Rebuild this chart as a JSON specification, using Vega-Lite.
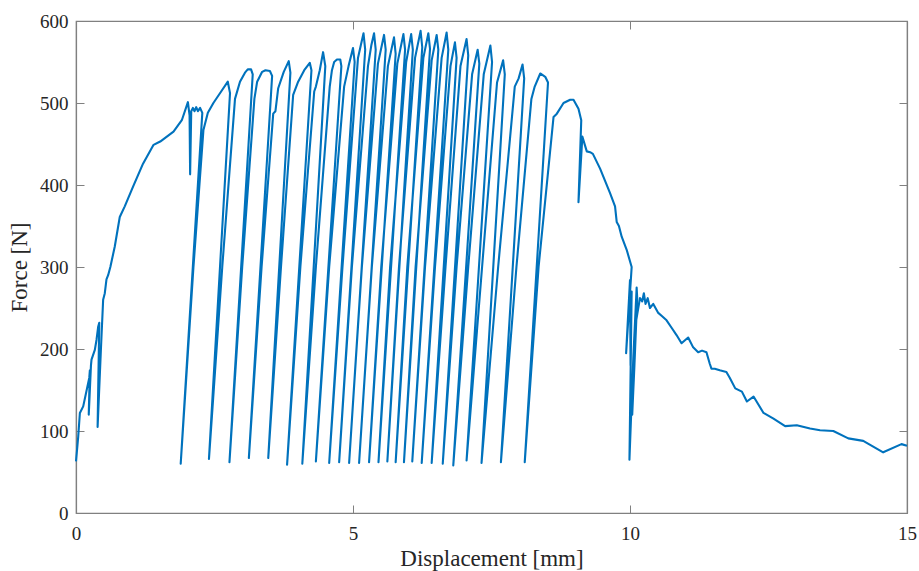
{
"$schema": "https://vega.github.io/schema/vega-lite/v6.json",
"width": 831, "height": 492,
"autosize": {"type": "none"},
"padding": {"left": 76, "top": 21, "right": 12, "bottom": 58},
"background": "white",
"config": {
  "font": "Liberation Serif",
  "view": {"stroke": "#808080", "strokeWidth": 1.2},
  "axis": {"grid": false, "domainColor": "#808080", "domainWidth": 1.2, "tickColor": "#808080", "tickWidth": 1, "tickSize": -8,
    "labelColor": "#262626", "titleColor": "#262626", "labelFont": "Liberation Serif", "titleFont": "Liberation Serif",
    "labelFontSize": 19, "titleFontSize": 23, "titleFontWeight": "normal"}
},
"data": {"values": [
{"i":1,"x":0,"y":63},{"i":2,"x":0.04,"y":93},{"i":3,"x":0.07,"y":122},{"i":4,"x":0.13,"y":130},{"i":5,"x":0.24,"y":165},{"i":6,"x":0.25,"y":174},{"i":7,"x":0.23,"y":120},{"i":8,"x":0.27,"y":180},{"i":9,"x":0.28,"y":187},{"i":10,"x":0.34,"y":199},
{"i":11,"x":0.37,"y":211},{"i":12,"x":0.40,"y":227},{"i":13,"x":0.42,"y":232},{"i":14,"x":0.39,"y":105},{"i":15,"x":0.45,"y":200},{"i":16,"x":0.49,"y":260},{"i":17,"x":0.52,"y":268},{"i":18,"x":0.55,"y":285},{"i":19,"x":0.58,"y":290},{"i":20,"x":0.62,"y":300},
{"i":21,"x":0.70,"y":325},{"i":22,"x":0.79,"y":361},{"i":23,"x":0.88,"y":374},{"i":24,"x":1.03,"y":398},{"i":25,"x":1.21,"y":426},{"i":26,"x":1.40,"y":449},{"i":27,"x":1.52,"y":453},{"i":28,"x":1.76,"y":465},{"i":29,"x":1.91,"y":479},{"i":30,"x":2.02,"y":501},
{"i":31,"x":2.05,"y":485},{"i":32,"x":2.06,"y":413},{"i":33,"x":2.08,"y":490},{"i":34,"x":2.11,"y":494},{"i":35,"x":2.14,"y":490},{"i":36,"x":2.17,"y":495},{"i":37,"x":2.20,"y":490},{"i":38,"x":2.24,"y":494},{"i":39,"x":2.28,"y":488},{"i":40,"x":1.89,"y":60},
{"i":41,"x":2.12,"y":300},{"i":42,"x":2.30,"y":467},{"i":43,"x":2.38,"y":488},{"i":44,"x":2.48,"y":500},{"i":45,"x":2.62,"y":514},{"i":46,"x":2.74,"y":526},{"i":47,"x":2.78,"y":512},{"i":48,"x":2.40,"y":66},
{"i":49,"x":2.64,"y":300},{"i":50,"x":2.87,"y":505},{"i":51,"x":2.96,"y":526},{"i":52,"x":3.05,"y":537},{"i":53,"x":3.10,"y":541},{"i":54,"x":3.16,"y":541},{"i":55,"x":3.19,"y":535},{"i":56,"x":2.77,"y":62},
{"i":57,"x":3.00,"y":300},{"i":58,"x":3.22,"y":505},{"i":59,"x":3.27,"y":526},{"i":60,"x":3.36,"y":538},{"i":61,"x":3.42,"y":540},{"i":62,"x":3.50,"y":539},{"i":63,"x":3.54,"y":533},{"i":64,"x":3.12,"y":67},
{"i":65,"x":3.35,"y":300},{"i":66,"x":3.56,"y":487},{"i":67,"x":3.60,"y":490},{"i":68,"x":3.65,"y":518},{"i":69,"x":3.75,"y":538},{"i":70,"x":3.84,"y":551},{"i":71,"x":3.87,"y":537},{"i":72,"x":3.47,"y":67},
{"i":73,"x":3.70,"y":300},{"i":74,"x":3.92,"y":510},{"i":75,"x":4.01,"y":526},{"i":76,"x":4.12,"y":540},{"i":77,"x":4.22,"y":549},{"i":78,"x":4.25,"y":540},{"i":79,"x":3.81,"y":59},
{"i":80,"x":4.05,"y":300},{"i":81,"x":4.30,"y":514},{"i":82,"x":4.33,"y":520},{"i":83,"x":4.40,"y":540},{"i":84,"x":4.46,"y":562},{"i":85,"x":4.50,"y":545},{"i":86,"x":4.085,"y":60},
{"i":87,"x":4.33,"y":300},{"i":88,"x":4.58,"y":520},{"i":89,"x":4.62,"y":540},{"i":90,"x":4.66,"y":550},{"i":91,"x":4.71,"y":553},{"i":92,"x":4.77,"y":553},{"i":93,"x":4.79,"y":545},{"i":94,"x":4.33,"y":63},
{"i":95,"x":4.57,"y":300},{"i":96,"x":4.84,"y":520},{"i":97,"x":4.92,"y":545},{"i":98,"x":5.00,"y":567},{"i":99,"x":5.03,"y":550},{"i":100,"x":4.57,"y":61},
{"i":101,"x":4.81,"y":300},{"i":102,"x":5.09,"y":555},{"i":103,"x":5.14,"y":570},{"i":104,"x":5.19,"y":585},{"i":105,"x":5.22,"y":565},{"i":106,"x":4.75,"y":62},
{"i":107,"x":4.98,"y":300},{"i":108,"x":5.27,"y":545},{"i":109,"x":5.33,"y":570},{"i":110,"x":5.38,"y":585},{"i":111,"x":5.41,"y":565},{"i":112,"x":4.93,"y":61},
{"i":113,"x":5.16,"y":300},{"i":114,"x":5.45,"y":548},{"i":115,"x":5.56,"y":583},{"i":116,"x":5.59,"y":565},{"i":117,"x":5.11,"y":61},
{"i":118,"x":5.34,"y":300},{"i":119,"x":5.63,"y":545},{"i":120,"x":5.74,"y":580},{"i":121,"x":5.77,"y":560},{"i":122,"x":5.29,"y":62},
{"i":123,"x":5.51,"y":300},{"i":124,"x":5.80,"y":548},{"i":125,"x":5.91,"y":584},{"i":126,"x":5.94,"y":565},{"i":127,"x":5.46,"y":62},
{"i":128,"x":5.67,"y":300},{"i":129,"x":5.96,"y":550},{"i":130,"x":6.05,"y":584},{"i":131,"x":6.08,"y":565},{"i":132,"x":5.62,"y":63},
{"i":133,"x":5.83,"y":300},{"i":134,"x":6.12,"y":555},{"i":135,"x":6.22,"y":588},{"i":136,"x":6.25,"y":568},{"i":137,"x":5.77,"y":62},
{"i":138,"x":5.98,"y":300},{"i":139,"x":6.27,"y":555},{"i":140,"x":6.36,"y":585},{"i":141,"x":6.39,"y":566},{"i":142,"x":5.92,"y":62},
{"i":143,"x":6.13,"y":300},{"i":144,"x":6.42,"y":552},{"i":145,"x":6.51,"y":583},{"i":146,"x":6.54,"y":565},{"i":147,"x":6.07,"y":63},
{"i":148,"x":6.30,"y":300},{"i":149,"x":6.60,"y":555},{"i":150,"x":6.69,"y":586},{"i":151,"x":6.72,"y":565},{"i":152,"x":6.24,"y":61},
{"i":153,"x":6.48,"y":300},{"i":154,"x":6.76,"y":545},{"i":155,"x":6.84,"y":574},{"i":156,"x":6.87,"y":555},{"i":157,"x":6.42,"y":61},
{"i":158,"x":6.67,"y":300},{"i":159,"x":6.94,"y":545},{"i":160,"x":7.05,"y":578},{"i":161,"x":7.08,"y":558},{"i":162,"x":6.62,"y":60},
{"i":163,"x":6.87,"y":300},{"i":164,"x":7.15,"y":535},{"i":165,"x":7.25,"y":565},{"i":166,"x":7.28,"y":548},{"i":167,"x":6.81,"y":58},
{"i":168,"x":7.08,"y":300},{"i":169,"x":7.36,"y":535},{"i":170,"x":7.48,"y":570},{"i":171,"x":7.51,"y":550},{"i":172,"x":7.05,"y":64},
{"i":173,"x":7.33,"y":300},{"i":174,"x":7.60,"y":525},{"i":175,"x":7.71,"y":552},{"i":176,"x":7.74,"y":535},{"i":177,"x":7.32,"y":61},
{"i":178,"x":7.62,"y":300},{"i":179,"x":7.92,"y":520},{"i":180,"x":7.99,"y":530},{"i":181,"x":8.06,"y":547},{"i":182,"x":8.09,"y":530},{"i":183,"x":7.67,"y":62},
{"i":184,"x":7.95,"y":300},{"i":185,"x":8.22,"y":505},{"i":186,"x":8.28,"y":520},{"i":187,"x":8.38,"y":536},{"i":188,"x":8.47,"y":532},{"i":189,"x":8.52,"y":525},{"i":190,"x":8.10,"y":62},
{"i":191,"x":8.35,"y":300},{"i":192,"x":8.62,"y":483},{"i":193,"x":8.68,"y":487},{"i":194,"x":8.80,"y":500},{"i":195,"x":8.92,"y":504},{"i":196,"x":8.98,"y":504},{"i":197,"x":9.07,"y":493},{"i":198,"x":9.12,"y":479},{"i":199,"x":9.07,"y":379},{"i":200,"x":9.14,"y":459},
{"i":201,"x":9.22,"y":441},{"i":202,"x":9.28,"y":440},{"i":203,"x":9.33,"y":438},{"i":204,"x":9.46,"y":420},{"i":205,"x":9.55,"y":405},{"i":206,"x":9.64,"y":390},{"i":207,"x":9.73,"y":374},{"i":208,"x":9.76,"y":355},{"i":209,"x":9.80,"y":350},{"i":210,"x":9.85,"y":337},
{"i":211,"x":9.94,"y":321},{"i":212,"x":10.03,"y":300},{"i":213,"x":9.93,"y":195},{"i":214,"x":10.0,"y":284},{"i":215,"x":10.01,"y":180},{"i":216,"x":10.03,"y":270},{"i":217,"x":9.99,"y":65},{"i":218,"x":10.06,"y":190},{"i":219,"x":10.12,"y":275},{"i":220,"x":10.13,"y":262},
{"i":221,"x":10.08,"y":180},{"i":222,"x":10.04,"y":120},{"i":223,"x":10.10,"y":230},{"i":224,"x":10.18,"y":262},{"i":225,"x":10.22,"y":258},{"i":226,"x":10.25,"y":268},{"i":227,"x":10.28,"y":255},{"i":228,"x":10.32,"y":262},{"i":229,"x":10.36,"y":250},{"i":230,"x":10.42,"y":255},
{"i":231,"x":10.51,"y":244},{"i":232,"x":10.58,"y":240},{"i":233,"x":10.66,"y":235},{"i":234,"x":10.76,"y":225},{"i":235,"x":10.84,"y":217},{"i":236,"x":10.93,"y":207},{"i":237,"x":11.05,"y":214},{"i":238,"x":11.14,"y":202},{"i":239,"x":11.23,"y":196},{"i":240,"x":11.30,"y":198},
{"i":241,"x":11.38,"y":196},{"i":242,"x":11.44,"y":182},{"i":243,"x":11.47,"y":176},{"i":244,"x":11.53,"y":176},{"i":245,"x":11.62,"y":174},{"i":246,"x":11.74,"y":172},{"i":247,"x":11.80,"y":165},{"i":248,"x":11.90,"y":152},{"i":249,"x":12.02,"y":148},{"i":250,"x":12.11,"y":136},
{"i":251,"x":12.23,"y":142},{"i":252,"x":12.41,"y":122},{"i":253,"x":12.59,"y":115},{"i":254,"x":12.80,"y":106},{"i":255,"x":13.01,"y":107},{"i":256,"x":13.25,"y":103},{"i":257,"x":13.43,"y":101},{"i":258,"x":13.67,"y":100},{"i":259,"x":13.94,"y":91},{"i":260,"x":14.21,"y":88},
{"i":261,"x":14.57,"y":74},{"i":262,"x":14.90,"y":84},{"i":263,"x":15.00,"y":82}
]},
"layer": [
  {
    "mark": {"type": "line", "color": "#0072BD", "strokeWidth": 2.1, "strokeJoin": "round"},
    "encoding": {
      "x": {"field": "x", "type": "quantitative", "scale": {"domain": [0, 15], "nice": false, "zero": false},
        "axis": {"values": [0, 5, 10, 15], "title": "Displacement [mm]", "labelPadding": 19, "titlePadding": 4, "labelFlush": false}},
      "y": {"field": "y", "type": "quantitative", "scale": {"domain": [0, 600], "nice": false},
        "axis": {"values": [0, 100, 200, 300, 400, 500, 600], "title": "Force [N]", "labelPadding": 16, "titlePadding": 8, "labelFlush": false}},
      "order": {"field": "i", "type": "quantitative"}
    }
  },
  {
    "mark": {"type": "line", "strokeOpacity": 0},
    "encoding": {
      "x": {"field": "x", "type": "quantitative", "axis": {"orient": "top", "values": [0, 5, 10, 15], "labels": false, "title": null}},
      "y": {"field": "y", "type": "quantitative", "axis": {"orient": "right", "values": [0, 100, 200, 300, 400, 500, 600], "labels": false, "title": null}},
      "order": {"field": "i", "type": "quantitative"}
    }
  }
],
"resolve": {"axis": {"x": "independent", "y": "independent"}}
}
